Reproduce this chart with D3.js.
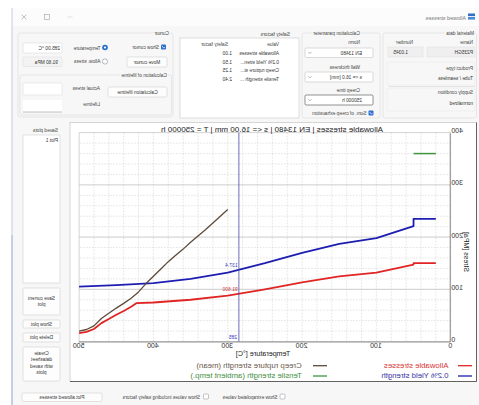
<!DOCTYPE html>
<html><head><meta charset="utf-8">
<script src="https://cdn.jsdelivr.net/npm/d3@7"></script>
<style>body{margin:0;background:#fff;}svg{display:block;font-family:"Liberation Sans",Arial,sans-serif;}</style>
</head><body>
<svg id="c" width="479" height="405"></svg>
<script>
// ---------- data ----------
const xTicks = [0, 100, 200, 300, 400, 500];
const yTicks = [0, 100, 200, 300, 400];
const allowT = [20, 50, 50, 100, 150, 200, 250, 300, 350, 400, 423, 430, 440, 450, 460, 470, 480, 490, 500];
const allowS = [150, 150, 147.3, 132, 124.7, 113.3, 100, 88, 80, 74.7, 73.4, 66.4, 58.4, 51.2, 43.2, 35.2, 24, 18.4, 16];
const yieldT = [20, 50, 50, 100, 150, 200, 250, 300, 350, 400, 450, 500];
const yieldS = [235, 235, 221, 198, 187, 170, 150, 132, 120, 112, 108, 105];
const creepT = [300, 310, 320, 330, 340, 350, 360, 370, 380, 390, 400, 410, 420, 430, 440, 450, 460, 470, 480, 490, 500];
const creepS = [253, 240, 227, 214, 202, 190, 177, 165, 153, 139, 125, 111, 95, 83, 73, 64, 54, 44, 30, 23, 20];
const tensileT = [20, 50];
const tensileS = [360, 360];
const seriesNames = ["Allowable stresses", "0.2% Yield strength", "Creep rupture strength (mean)", "Tensile strength (ambient temp.)"];
const seriesColors = ["#e12424", "#1d1db2", "#5c4a3a", "#3d963d"];
const legendTextColors = ["#d83838", "#3434a4", "#6a5a4c", "#3f8f3f"];
const chartTitle = "Allowable stresses | EN 13480 | s <= 16.00 mm | T = 250000 h";
const xTitle = "Temperature [°C]";
const yTitle = "Stress [MPa]";
const cursorT = 285;
const cursorVals = [137.4, 91.6];
const cursorTexts = ["137.4", "91.600"];
const cursorTempText = "285";
const safetyNames = ["Allowable stresses", "0.2% Yield stren...", "Creep rupture st...", "Tensile strength ..."];
const safetyVals = ["1.00", "1.50", "1.25", "2.40"];

// ---------- helpers ----------
const W = 479, H = 405;
const svg = d3.select("#c");
svg.append("rect").attr("width", W).attr("height", H).attr("fill", "#fff");
const root = svg.append("g").attr("transform", `translate(${W},0) scale(-1,1)`);
function R(x, y, w, h, o = {}) {
  return root.append("rect").attr("x", x).attr("y", y).attr("width", w).attr("height", h)
    .attr("rx", o.rx || 0).attr("fill", o.fill || "none").attr("stroke", o.stroke || "none")
    .attr("stroke-width", o.sw || 0.7);
}
function T(x, y, s, o = {}) {
  return root.append("text").attr("x", x).attr("y", y).attr("font-size", o.size || 4.8)
    .attr("fill", o.fill || "#454545").attr("text-anchor", o.anchor || "start").text(s);
}
function L(x1, y1, x2, y2, stroke, sw, dash) {
  const l = root.append("line").attr("x1", x1).attr("y1", y1).attr("x2", x2).attr("y2", y2)
    .attr("stroke", stroke).attr("stroke-width", sw || 0.7);
  if (dash) l.attr("stroke-dasharray", dash);
  return l;
}
function CB(x, y) {
  R(x, y, 5, 5, { rx: 1, fill: "#2b6fce" });
  root.append("path").attr("d", `M${x + 1.1},${y + 2.6}L${x + 2.1},${y + 3.7}L${x + 4},${y + 1.4}`)
    .attr("fill", "none").attr("stroke", "#fff").attr("stroke-width", 0.7);
}
function CBE(x, y) { R(x, y, 5, 5, { rx: 1, fill: "#fff", stroke: "#888", sw: 0.5 }); }
function Btn(x, y, w, h, lines, base) {
  R(x, y, w, h, { rx: 1.2, fill: "#fdfdfd", stroke: "#d2d2d2", sw: 0.6 });
  lines.forEach((s, i) => T(x + w / 2, base + i * 6.4, s, { anchor: "middle", fill: "#333" }));
}
function Combo(x, y, w, h, txt, stroke) {
  R(x, y, w, h, { rx: 1.2, fill: "#fff", stroke: stroke || "#c4c4c4", sw: 0.6 });
  T(x + 11, y + h - 2.8, txt, { fill: "#333" });
  const a = x + w - 6.5, m = y + h / 2;
  root.append("path").attr("d", `M${a},${m - 0.8}L${a + 1.6},${m + 0.8}L${a + 3.2},${m - 0.8}`)
    .attr("fill", "none").attr("stroke", "#666").attr("stroke-width", 0.5);
}
function Group(x, y, w, h, label, lx) {
  R(x, y, w, h, { rx: 2, stroke: "#dadada", sw: 0.6 });
  const t = T(lx, y + 2.2, label, { fill: "#444" });
  const bb = t.node().getBBox();
  root.insert("rect", () => t.node()).attr("x", bb.x - 1).attr("y", bb.y).attr("width", bb.width + 2)
    .attr("height", bb.height).attr("fill", "#f7f7f7");
}

// ---------- window ----------
R(0, 8, 467, 397, { fill: "#f7f7f7" });
R(0, 8, 467, 18, { fill: "#fcfcfc" });
L(467, 8, 467, 235, "#b8c2d0", 0.8);
L(467, 235, 467, 405, "#6c8ec4", 0.8);
R(4, 13.5, 7, 2.6, { fill: "#2f6fc4" });
R(4, 17, 7, 2.6, { fill: "#4a8ad8" });
T(13, 19.6, "Allowed stresses", { size: 5.4, fill: "#7a7a7a" });
L(452.5, 14.5, 457.5, 19.5, "#999", 0.6); L(457.5, 14.5, 452.5, 19.5, "#999", 0.6);
R(429.5, 14.3, 5, 5, { stroke: "#a0a0a0", sw: 0.6 });
L(406.5, 17, 411.5, 17, "#d0d0d0", 0.6);

// Material data
Group(2.5, 33, 93.5, 85, "Material data", 5);
T(6, 43.5, "Name"); T(66, 43.5, "Number");
R(4, 47, 48, 10, { fill: "#efefef", stroke: "#dedede", sw: 0.5 });
T(6, 54, "P235GH", { fill: "#333" });
R(56, 47, 35, 10, { fill: "#efefef", stroke: "#dedede", sw: 0.5 });
T(71, 54, "1.0345", { fill: "#333" });
R(4, 62, 88, 23, { rx: 1, stroke: "#e4e4e4", sw: 0.5 });
T(6, 70, "Product type"); T(6, 80, "Tube / seamless", { fill: "#333" });
L(4, 86.5, 90, 86.5, "#d6d6d6", 0.6);
R(4, 88, 88, 23, { rx: 1, stroke: "#e4e4e4", sw: 0.5 });
T(6, 93.8, "Supply condition"); T(6, 105, "normalized", { fill: "#333" });

// Calculation parameter
Group(99, 33, 78, 85, "Calculation parameter", 119);
T(119, 43.8, "Norm");
Combo(106, 48, 68, 9.5, "EN 13480");
T(119, 68.5, "Wall thickness");
Combo(106, 72, 68, 10, "s <= 16.0 [mm]");
T(119, 91.5, "Creep time");
Combo(106, 95, 68, 10, "250000 h", "#4a4a4a");
CB(105.5, 110.5);
T(112.5, 115, "Sum. of creep exhaustion");

// Safety factors
T(189, 35.5, "Safety factors");
R(180, 38, 119, 80, { fill: "#fff", stroke: "#c8c8c8", sw: 0.6 });
T(200, 46, "Value"); T(251, 46, "Safety factor");
safetyNames.forEach((s, i) => {
  T(200, 55 + i * 8.5, s, { fill: "#333" });
  T(247, 55 + i * 8.5, safetyVals[i], { fill: "#333" });
});

// Cursor group
Group(306, 33, 155, 84, "Cursor", 310);
CB(313, 44.5);
T(320, 49, "Show cursor");
root.append("circle").attr("cx", 374).attr("cy", 47.5).attr("r", 2.8).attr("fill", "#2b6fce");
root.append("circle").attr("cx", 374).attr("cy", 47.5).attr("r", 1.1).attr("fill", "#fff");
T(378.5, 49.5, "Temperature");
root.append("circle").attr("cx", 374).attr("cy", 61.5).attr("r", 2.6).attr("fill", "#fff").attr("stroke", "#777").attr("stroke-width", 0.5);
T(378.5, 63.3, "Allow. stress");
R(417, 43, 39, 10, { rx: 1, fill: "#fff", stroke: "#d0d0d0", sw: 0.5 });
T(419, 50, "285.00 °C", { fill: "#333" });
R(417, 57, 39, 9.5, { rx: 1, fill: "#f3f3f3", stroke: "#d8d8d8", sw: 0.5 });
T(421, 63.5, "91.60 MPa", { fill: "#333" });
Btn(312, 57, 40, 10, ["Move cursor"], 63.6);
Group(307.5, 75, 151.5, 40, "Calculation of lifetime", 312);
Btn(312, 87, 59, 10, ["Calculation lifetime"], 93.6);
T(379, 90, "Actual stress");
R(417, 83, 39, 12, { rx: 1, fill: "#fff", stroke: "#d6d6d6", sw: 0.5 });
T(379, 106, "Lifetime");
R(417, 100, 39, 12, { rx: 1, fill: "#fff" });
L(417, 112, 456, 112, "#9a9a9a", 0.6);

// Left panel (saved plots)
T(421, 131.5, "Saved plots");
R(419, 135, 37, 148, { fill: "#fff", stroke: "#cfcfcf", sw: 0.6 });
T(421, 141.5, "Plot 1", { fill: "#333" });
Btn(419, 288, 37, 27, ["Save current", "plot"], 299.5);
Btn(419, 320, 37, 8, ["Show plot"], 325.8);
Btn(419, 333, 37, 9, ["Delete plot"], 339.3);
Btn(419, 347, 37, 34, ["Create", "datasheet", "with saved", "plots"], 355);

// Bottom controls
Btn(377, 393, 80, 8.5, ["Plot allowed stresses"], 399.2);
CBE(270.5, 394);
T(279, 398.7, "Show values including safety factors");
CBE(194, 394);
T(201.5, 398.7, "Show extrapolated values");

// ---------- chart panel ----------
R(2.5, 122.5, 406.5, 259, { fill: "#fff", stroke: "#bdbdbd", sw: 0.6 });
L(2.5, 122.5, 2.5, 381.5, "#555", 0.9);
L(2.5, 381.5, 409, 381.5, "#555", 0.9);

const x = d3.scaleLinear().domain([0, 500]).range([28.3, 399.9]);
const y = d3.scaleLinear().domain([0, 400]).range([341.5, 132.7]);
const plot = root.append("g");

// grid
const minorX = d3.range(20, 500, 20);
const minorY = d3.range(20, 400, 20);
plot.selectAll(".gx").data(minorX).join("line")
  .attr("x1", d => x(d)).attr("x2", d => x(d)).attr("y1", y(400)).attr("y2", y(0))
  .attr("stroke", "#d2d2d2").attr("stroke-width", 0.6).attr("stroke-dasharray", "1.6,1.4");
plot.selectAll(".gy").data(minorY).join("line")
  .attr("x1", x(0)).attr("x2", x(500)).attr("y1", d => y(d)).attr("y2", d => y(d))
  .attr("stroke", d => d % 100 === 0 ? "#c6c6c6" : "#d2d2d2")
  .attr("stroke-width", d => d % 100 === 0 ? 0.9 : 0.6)
  .attr("stroke-dasharray", d => d % 100 === 0 ? null : "1.6,1.4");
plot.append("rect").attr("x", x(0)).attr("y", y(400)).attr("width", x(500) - x(0)).attr("height", y(0) - y(400))
  .attr("fill", "none").attr("stroke", "#c4c4c4").attr("stroke-width", 0.7);

// axes
const xa = plot.append("g").attr("transform", `translate(0,${y(0)})`)
  .call(d3.axisBottom(x).tickValues(xTicks).tickSize(0).tickPadding(1.6));
xa.select(".domain").attr("stroke", "#777").attr("stroke-width", 0.8);
xa.selectAll("text").attr("font-size", 7).attr("fill", "#333").attr("font-family", "Liberation Sans, Arial, sans-serif");
const ya = plot.append("g").attr("transform", `translate(${x(0)},0)`)
  .call(d3.axisLeft(y).tickValues(yTicks).tickSize(0).tickPadding(0.6));
ya.select(".domain").attr("stroke", "#777").attr("stroke-width", 0.8);
ya.selectAll("text").attr("font-size", 7).attr("fill", "#333").attr("dy", "0").attr("font-family", "Liberation Sans, Arial, sans-serif");

// title
T(96, 131.6, chartTitle, { size: 8, fill: "#222" });
T(216, 356.2, xTitle, { size: 7.2, fill: "#222", anchor: "middle" });
root.append("text").attr("transform", "translate(14.6,232) rotate(-90)").attr("text-anchor", "end")
  .attr("font-size", 7).attr("fill", "#222").text(yTitle);

// series
const line = d3.line().x(d => x(d[0])).y(d => y(d[1]));
const series = [
  { t: allowT, s: allowS, w: 1.8 },
  { t: yieldT, s: yieldS, w: 1.8 },
  { t: creepT, s: creepS, w: 1.3 },
  { t: tensileT, s: tensileS, w: 1.5 }
];
series.forEach((sr, i) => {
  plot.append("path").datum(d3.zip(sr.t, sr.s)).attr("d", line)
    .attr("fill", "none").attr("stroke", seriesColors[i]).attr("stroke-width", sr.w)
    .attr("stroke-linejoin", "round");
});

// cursor
const cx = x(cursorT);
plot.append("line").attr("x1", cx).attr("x2", cx).attr("y1", y(400)).attr("y2", y(0))
  .attr("stroke", "#4848a8").attr("stroke-width", 0.8);
const curColors = ["#3838c0", "#d03434"];
cursorVals.forEach((v, i) => {
  plot.append("text").attr("x", cx + 1.2).attr("y", y(v) - 2.6).attr("font-size", 5)
    .attr("fill", curColors[i]).text(cursorTexts[i]);
});
plot.append("text").attr("x", cx + 1.8).attr("y", y(0) - 2.6).attr("font-size", 5)
  .attr("fill", "#3838c0").text(cursorTempText);

// legend
const legPos = [[7, 30.5, 368, 365.7], [7, 30.5, 378.2, 376], [152, 177.3, 368, 365.7], [152, 177.3, 378.2, 376]];
seriesNames.forEach((n, i) => {
  const p = legPos[i];
  L(p[0], p[3], p[0] + 14, p[3], seriesColors[i], 1.3);
  T(p[1], p[2], n, { size: 7.8, fill: legendTextColors[i] });
});
</script>
</body></html>
